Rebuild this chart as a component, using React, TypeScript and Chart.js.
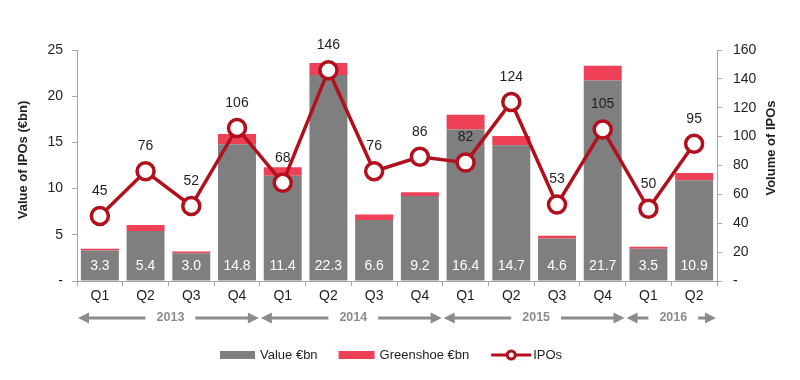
import React, { useEffect, useRef } from 'react';
import { Chart, registerables } from 'chart.js';
Chart.register(...registerables);

const quarters = ['Q1', 'Q2', 'Q3', 'Q4', 'Q1', 'Q2', 'Q3', 'Q4', 'Q1', 'Q2', 'Q3', 'Q4', 'Q1', 'Q2'];
const values = [3.3, 5.4, 3.0, 14.8, 11.4, 22.3, 6.6, 9.2, 16.4, 14.7, 4.6, 21.7, 3.5, 10.9];
const greenshoe = [0.2, 0.65, 0.2, 1.1, 0.9, 1.3, 0.6, 0.4, 1.6, 1.0, 0.3, 1.6, 0.2, 0.8];
const ipos = [45, 76, 52, 106, 68, 146, 76, 86, 82, 124, 53, 105, 50, 95];
const yearLabels = ['2013', '2014', '2015', '2016'];
const yearStart = [0, 4, 8, 12];
const yearEnd = [3, 7, 11, 13];

const FONT = '"Liberation Sans", Arial, sans-serif';
const GRAY = '#7f7f7f';
const PINK = '#ee4157';
const DARKRED = '#b2101d';
const TEXT = '#1f1f1f';
const AXIS = '#a6a6a6';

const overlay = {
  id: 'overlay',
  afterDatasetsDraw(chart: any) {
    const ctx = chart.ctx;
    const barMeta = chart.getDatasetMeta(0);
    const lineMeta = chart.getDatasetMeta(2);
    const yb = chart.scales.y.getPixelForValue(0);
    ctx.save();
    ctx.font = `14px ${FONT}`;
    ctx.textAlign = 'center';
    ctx.textBaseline = 'middle';
    ctx.fillStyle = '#ffffff';
    barMeta.data.forEach((el: any, i: number) => {
      ctx.fillText(values[i].toFixed(1), el.x, yb - 15);
    });
    ctx.fillStyle = TEXT;
    lineMeta.data.forEach((pt: any, i: number) => {
      ctx.fillText(String(ipos[i]), pt.x, pt.y - 25);
    });
    ctx.restore();
  },
  afterDraw(chart: any) {
    const ctx = chart.ctx;
    const xs = chart.scales.x;
    const catW = xs.width / quarters.length;
    ctx.save();
    // axis titles
    ctx.font = `bold 13px ${FONT}`;
    ctx.fillStyle = TEXT;
    ctx.textAlign = 'center';
    ctx.textBaseline = 'middle';
    ctx.translate(23, 160);
    ctx.rotate(-Math.PI / 2);
    ctx.fillText('Value of IPOs (€bn)', 0, 0);
    ctx.setTransform(1, 0, 0, 1, 0, 0);
    ctx.translate(771, 148);
    ctx.rotate(-Math.PI / 2);
    ctx.fillText('Volume of IPOs', 0, 0);
    ctx.setTransform(1, 0, 0, 1, 0, 0);

    // year arrows
    const ay = 318;
    ctx.font = `bold 12.5px ${FONT}`;
    yearLabels.forEach((lab, k) => {
      const x1 = xs.getPixelForValue(yearStart[k]) - catW / 2 + 1;
      const x2 = xs.getPixelForValue(yearEnd[k]) + catW / 2 - 1;
      const cx = (x1 + x2) / 2 + 2;
      const w = ctx.measureText(lab).width;
      ctx.fillStyle = '#8c8c8c';
      ctx.fillText(lab, cx, ay);
      ctx.strokeStyle = '#8c8c8c';
      ctx.lineWidth = 3;
      const head = 11;
      ctx.beginPath();
      ctx.moveTo(x1 + head - 2, ay);
      ctx.lineTo(cx - w / 2 - 11, ay);
      ctx.moveTo(cx + w / 2 + 11, ay);
      ctx.lineTo(x2 - head + 2, ay);
      ctx.stroke();
      ctx.beginPath();
      ctx.moveTo(x1, ay);
      ctx.lineTo(x1 + head, ay - 5.5);
      ctx.lineTo(x1 + head, ay + 5.5);
      ctx.closePath();
      ctx.fill();
      ctx.beginPath();
      ctx.moveTo(x2, ay);
      ctx.lineTo(x2 - head, ay - 5.5);
      ctx.lineTo(x2 - head, ay + 5.5);
      ctx.closePath();
      ctx.fill();
    });

    // legend
    const ly = 355;
    ctx.font = `13px ${FONT}`;
    ctx.textAlign = 'left';
    ctx.fillStyle = TEXT;
    let x = 220;
    ctx.fillStyle = GRAY;
    ctx.fillRect(x, ly - 4, 35, 8);
    x += 40;
    ctx.fillStyle = TEXT;
    ctx.fillText('Value €bn', x, ly);
    x += ctx.measureText('Value €bn').width + 21;
    ctx.fillStyle = PINK;
    ctx.fillRect(x, ly - 4, 36, 8);
    x += 41;
    ctx.fillStyle = TEXT;
    ctx.fillText('Greenshoe €bn', x, ly);
    x += ctx.measureText('Greenshoe €bn').width + 22;
    ctx.strokeStyle = DARKRED;
    ctx.lineWidth = 3;
    ctx.beginPath();
    ctx.moveTo(x, ly);
    ctx.lineTo(x + 40, ly);
    ctx.stroke();
    ctx.beginPath();
    ctx.arc(x + 20, ly, 4, 0, Math.PI * 2);
    ctx.fillStyle = '#ffffff';
    ctx.fill();
    ctx.stroke();
    x += 42;
    ctx.fillStyle = TEXT;
    ctx.fillText('IPOs', x, ly);
    ctx.restore();
  },
};

export default function App() {
  const ref = useRef<HTMLCanvasElement>(null);
  useEffect(() => {
    document.body.style.margin = '0';
    const chart = new Chart(ref.current!, {
      type: 'bar',
      data: {
        labels: quarters,
        datasets: [
          {
            type: 'bar',
            label: 'Value €bn',
            data: values,
            backgroundColor: GRAY,
            yAxisID: 'y',
            stack: 's',
            order: 2,
            categoryPercentage: 1,
            barPercentage: 0.83,
          },
          {
            type: 'bar',
            label: 'Greenshoe €bn',
            data: greenshoe,
            backgroundColor: PINK,
            yAxisID: 'y',
            stack: 's',
            order: 2,
            categoryPercentage: 1,
            barPercentage: 0.83,
          },
          {
            type: 'line',
            label: 'IPOs',
            data: ipos,
            yAxisID: 'y1',
            borderColor: DARKRED,
            borderWidth: 3.5,
            pointRadius: 8.5,
            pointBorderWidth: 3.5,
            pointBackgroundColor: '#ffffff',
            pointBorderColor: DARKRED,
            tension: 0,
            order: 0,
          } as any,
        ],
      },
      options: {
        responsive: true,
        maintainAspectRatio: false,
        animation: false,
        layout: { padding: { top: 50, left: 0, right: 0, bottom: 0 } },
        plugins: { legend: { display: false }, tooltip: { enabled: false } },
        scales: {
          x: {
            stacked: true,
            afterFit: (s: any) => { s.height = 99; },
            grid: { drawOnChartArea: false, drawTicks: true, tickLength: 5, color: AXIS, offset: true },
            border: { color: AXIS },
            ticks: { color: TEXT, font: { size: 14, family: FONT }, padding: 2, autoSkip: false, maxRotation: 0 },
          },
          y: {
            stacked: true,
            position: 'left',
            min: 0,
            max: 25,
            afterFit: (s: any) => { s.width = 77; },
            grid: { drawOnChartArea: false, drawTicks: true, tickLength: 5, color: AXIS },
            border: { color: AXIS },
            ticks: {
              stepSize: 5,
              color: TEXT,
              padding: 9,
              font: { size: 14, family: FONT },
              callback: (v: any) => (v === 0 ? '-' : String(v)),
            },
          },
          y1: {
            position: 'right',
            min: 0,
            max: 160,
            afterFit: (s: any) => { s.width = 83; },
            grid: { drawOnChartArea: false, drawTicks: true, tickLength: 5, color: AXIS },
            border: { color: AXIS },
            ticks: {
              stepSize: 20,
              color: TEXT,
              padding: 11,
              font: { size: 14, family: FONT },
              callback: (v: any) => (v === 0 ? '-' : String(v)),
            },
          },
        },
      },
      plugins: [overlay],
    });
    return () => chart.destroy();
  }, []);
  return (
    <div style={{ position: 'absolute', left: 0, top: 0, width: 800, height: 380 }}>
      <canvas ref={ref} />
    </div>
  );
}
